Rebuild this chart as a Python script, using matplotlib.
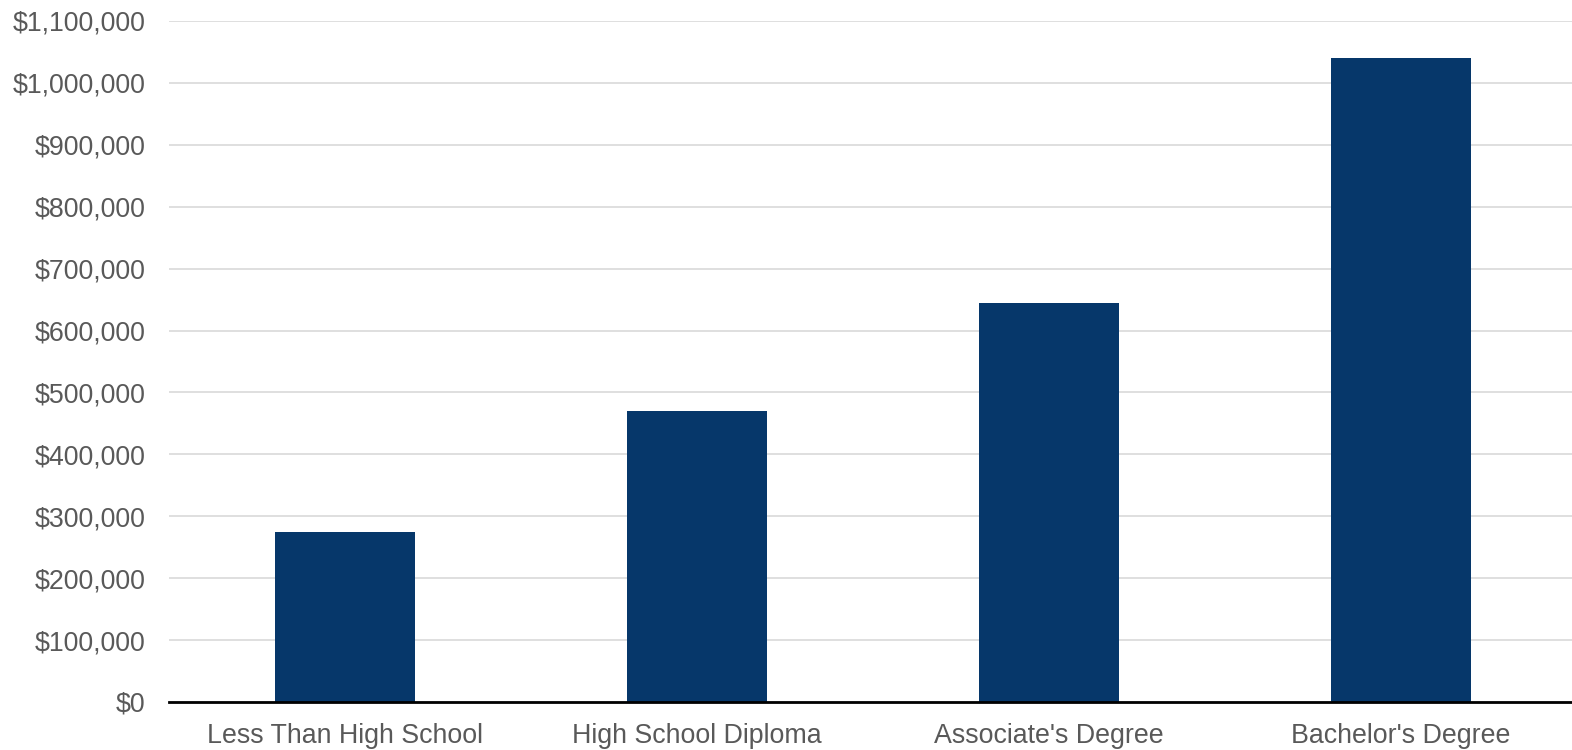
import matplotlib
matplotlib.use("Agg")
import matplotlib.pyplot as plt
from matplotlib.ticker import FuncFormatter, MultipleLocator

categories = ["Less Than High School", "High School Diploma", "Associate's Degree", "Bachelor's Degree"]
earnings = [275000, 470000, 644000, 1040000]

plt.rcParams["font.family"] = ["Liberation Sans", "DejaVu Sans"]

fig = plt.figure(figsize=(15.72, 7.5), dpi=100)
ax = fig.add_axes([169 / 1572, 48 / 750, 1408 / 1572, 681 / 750])

x = range(len(categories))
ax.bar(x, earnings, width=0.4, color="#06376a", zorder=3)

ax.set_xlim(-0.5, len(categories) - 0.5)
ax.set_ylim(0, 1100000)
ax.yaxis.set_major_locator(MultipleLocator(100000))
ax.yaxis.set_major_formatter(FuncFormatter(lambda v, _: f"${v:,.0f}"))
ax.set_xticks(list(x))
ax.set_xticklabels(categories)

ax.grid(axis="y", color="#d9d9d9", linewidth=1.2, zorder=0)
ax.grid(axis="x", visible=False)
for side in ("top", "right", "left"):
    ax.spines[side].set_visible(False)
ax.spines["bottom"].set_color("black")
ax.spines["bottom"].set_linewidth(2)
ax.spines["bottom"].set_zorder(4)

ax.tick_params(axis="both", length=0, labelsize=19.3, labelcolor="#595959")
ax.tick_params(axis="y", pad=17)
ax.tick_params(axis="x", pad=15)

fig.savefig("out.png", dpi=100)
